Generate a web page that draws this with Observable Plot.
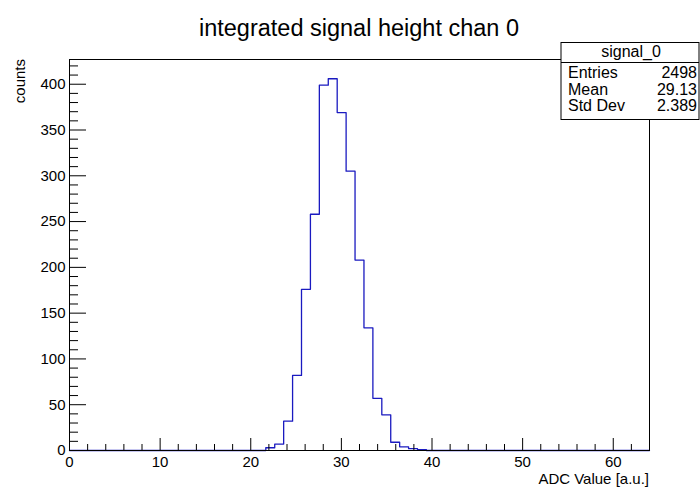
<!DOCTYPE html>
<html><head><meta charset="utf-8">
<script src="https://cdn.jsdelivr.net/npm/d3@7"></script>
<script src="https://cdn.jsdelivr.net/npm/@observablehq/plot@0.6"></script>
<style>html,body{margin:0;padding:0;background:#fff;} svg{display:block;}</style>
</head><body><div id="chart"></div>
<script>
// ---- data ----
const title = "integrated signal height chan 0";
const xLabel = "ADC Value [a.u.]";
const yLabel = "counts";
const statsName = "signal_0";
const statsLabels = ["Entries", "Mean", "Std Dev"];
const statsValues = ["2498", "29.13", "2.389"];
const nBins = 65, xMin = 0, xMax = 64;
const firstBin = 22;
const counts = [3, 7, 32, 82, 176, 258, 399, 406, 369, 305, 208, 134, 57, 39, 9, 4, 2, 1];
const yMax = 427;
const xMajor = [0, 10, 20, 30, 40, 50, 60];
const xMinor = [2, 4, 6, 8, 12, 14, 16, 18, 22, 24, 26, 28, 32, 34, 36, 38, 42, 44, 46, 48, 52, 54, 56, 58, 62];
const yMajor = [0, 50, 100, 150, 200, 250, 300, 350, 400];
const yMinor = [10, 20, 30, 40, 60, 70, 80, 90, 110, 120, 130, 140, 160, 170, 180, 190, 210, 220, 230, 240, 260, 270, 280, 290, 310, 320, 330, 340, 360, 370, 380, 390, 410, 420];

// ---- step outline from bins ----
const bw = (xMax - xMin) / nBins;
const steps = [];
for (let i = 0; i < nBins; i++) {
  const j = i - firstBin;
  const c = (j >= 0 && j < counts.length) ? counts[j] : 0;
  steps.push({x: xMin + i * bw, y: c});
}
steps.push({x: xMax, y: 0});

// ---- layout ----
const W = 700, H = 487, mL = 69, mR = 51, mT = 59, mB = 37;
const fw = W - mL - mR, fh = H - mT - mB;
const font = "'Liberation Sans', Arial, Helvetica, sans-serif";

const plot = Plot.plot({
  width: W, height: H,
  marginLeft: mL, marginRight: mR, marginTop: mT, marginBottom: mB,
  x: {domain: [xMin, xMax], axis: null},
  y: {domain: [0, yMax], axis: null},
  style: {fontFamily: font, background: "#fff", color: "#000"},
  marks: [
    Plot.line(steps, {x: "x", y: "y", curve: "step-after", stroke: "#1a1ac0", strokeWidth: 1.3}),
    Plot.ruleX(xMinor, {insetTop: fh - 6, stroke: "#000"}),
    Plot.ruleX(xMajor, {insetTop: fh - 12, stroke: "#000"}),
    Plot.ruleY(yMinor, {insetRight: fw - 9, stroke: "#000"}),
    Plot.ruleY(yMajor, {insetRight: fw - 17, stroke: "#000"}),
    Plot.frame({stroke: "#000"}),
    Plot.axisX(xMajor, {tickSize: 0, tickPadding: 6, fontSize: 15, label: null}),
    Plot.axisY(yMajor, {tickSize: 0, tickPadding: 4, fontSize: 15, label: null})
  ]
});
document.getElementById("chart").appendChild(plot);

// ---- title, axis titles, stats box ----
const svg = d3.select(plot);
svg.append("text").attr("x", 359).attr("y", 36).attr("text-anchor", "middle")
  .attr("font-family", font).attr("font-size", 23.5).attr("fill", "#000").text(title);
svg.append("text").attr("x", 649).attr("y", 484).attr("text-anchor", "end")
  .attr("font-family", font).attr("font-size", 15).attr("fill", "#000").text(xLabel);
svg.append("text").attr("transform", "translate(25,59) rotate(-90)").attr("text-anchor", "end")
  .attr("font-family", font).attr("font-size", 15).attr("fill", "#000").text(yLabel);

const bx = 561, by = 42.5, bwid = 138, bh = 77;
const g = svg.append("g").attr("font-family", font).attr("font-size", 16).attr("fill", "#000");
g.append("rect").attr("x", bx).attr("y", by).attr("width", bwid).attr("height", bh)
  .attr("fill", "#fff").attr("stroke", "#000");
g.append("line").attr("x1", bx).attr("x2", bx + bwid).attr("y1", 62.5).attr("y2", 62.5).attr("stroke", "#000");
g.append("text").attr("x", 631).attr("y", 57).attr("text-anchor", "middle").text(statsName);
const rowsY = [78, 94.5, 111];
statsLabels.forEach((l, i) => {
  g.append("text").attr("x", 568).attr("y", rowsY[i]).attr("text-anchor", "start").text(l);
  g.append("text").attr("x", 697).attr("y", rowsY[i]).attr("text-anchor", "end").text(statsValues[i]);
});
</script>
</body></html>
